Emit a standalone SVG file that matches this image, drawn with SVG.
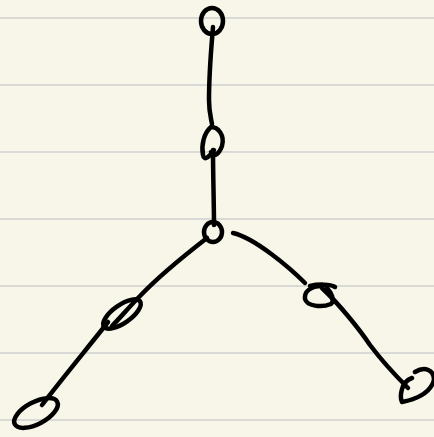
<svg xmlns="http://www.w3.org/2000/svg" width="434" height="437" viewBox="0 0 434 437">
<style>
.rule{stroke:#d9d9d6;stroke-width:2}
.ink{fill:none;stroke:#000;stroke-width:4.5;stroke-linecap:round;stroke-linejoin:round}
</style>
<rect width="434" height="437" fill="#f8f6e8"/>
<g id="rules">
<line class="rule" x1="0" y1="18" x2="434" y2="18"/>
<line class="rule" x1="0" y1="85" x2="434" y2="85"/>
<line class="rule" x1="0" y1="152" x2="434" y2="152"/>
<line class="rule" x1="0" y1="219" x2="434" y2="219"/>
<line class="rule" x1="0" y1="286" x2="434" y2="286"/>
<line class="rule" x1="0" y1="353" x2="434" y2="353"/>
<line class="rule" x1="0" y1="420" x2="434" y2="420"/>
</g>
<g id="connectors" class="ink">
<path d="M213,27 C212,40 209,70 209,100 C209,112 211,118 212,124"/>
<path d="M213,150 C213,175 214,205 214,225"/>
<path d="M207,238 C185,255 160,275 140,296 C130,306 120,318 112,326"/>
<path d="M108,322 C90,345 65,375 42,405"/>
<path d="M233,233 C255,238 290,268 305,283"/>
<path d="M322,288 C340,305 360,330 370,345 C385,365 400,380 408,388"/>
</g>
<g id="n1"><ellipse class="ink" cx="212" cy="21" rx="11" ry="13"/></g>
<g id="n2"><path class="ink" d="M211,127 C218,127 225,135 222,146 C219,154 214,158 211,152 M214,150 C210,156 204,162 203,155 C201,145 204,133 211,127"/></g>
<g id="n3"><ellipse class="ink" cx="213" cy="232" rx="9" ry="10"/></g>
<g id="n4"><ellipse class="ink" cx="122" cy="314" rx="22" ry="9" transform="rotate(-35 122 314)"/></g>
<g id="n5"><path class="ink" d="M310,286 C318,284 330,284 335,287 M322,286 C310,286 304,292 305,299 C307,306 321,308 331,304 C335,300 331,292 327,288"/></g>
<g id="n6"><ellipse class="ink" cx="36" cy="413" rx="24" ry="11" transform="rotate(-28 36 413)"/></g>
<g id="n7"><path class="ink" d="M412,378 C400,382 400,398 402,402 C412,400 430,395 434,380 C434,370 425,366 415,372"/></g>
</svg>
